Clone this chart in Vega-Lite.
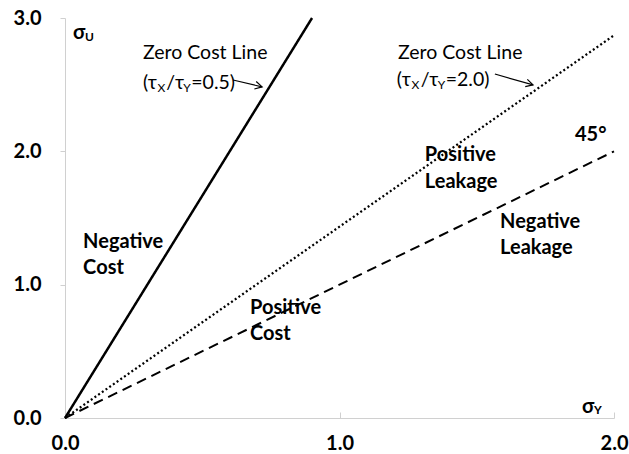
{
  "$schema": "https://vega.github.io/schema/vega-lite/v6.json",
  "width": 549,
  "height": 400,
  "autosize": "none",
  "padding": {"left": 65, "top": 18, "right": 15, "bottom": 36},
  "background": "white",
  "config": {"view": {"stroke": null}, "font": "Lato"},
  "datasets": {
    "lines": [
      {"s": "solid", "x": 0, "y": 0}, {"s": "solid", "x": 0.9, "y": 3.0},
      {"s": "dotted", "x": 0, "y": 0}, {"s": "dotted", "x": 2.0, "y": 2.87},
      {"s": "dashed", "x": 0, "y": 0}, {"s": "dashed", "x": 2.0, "y": 2.0}
    ],
    "bold": [
      {"t": "Negative", "x": 0.066, "y": 1.32}, {"t": "Cost", "x": 0.066, "y": 1.125},
      {"t": "Positive", "x": 0.674, "y": 0.825}, {"t": "Cost", "x": 0.674, "y": 0.63},
      {"t": "Positive", "x": 1.311, "y": 1.973}, {"t": "Leakage", "x": 1.311, "y": 1.77},
      {"t": "Negative", "x": 1.585, "y": 1.47}, {"t": "Leakage", "x": 1.585, "y": 1.275},
      {"t": "45°", "x": 1.858, "y": 2.122},
      {"t": "σ", "x": 0.029, "y": 2.888}, {"t": "σ", "x": 1.883, "y": 0.083}
    ],
    "boldsub": [
      {"t": "U", "x": 0.073, "y": 2.855}, {"t": "Y", "x": 1.927, "y": 0.058}
    ],
    "reg": [
      {"t": "Zero Cost Line", "x": 0.284, "y": 2.738}, {"t": "Zero Cost Line", "x": 1.213, "y": 2.738},
      {"t": "(τ", "x": 0.284, "y": 2.513}, {"t": "/τ", "x": 0.369, "y": 2.513}, {"t": "=0.5)", "x": 0.46, "y": 2.513},
      {"t": "(τ", "x": 1.209, "y": 2.535}, {"t": "/τ", "x": 1.296, "y": 2.535}, {"t": "=2.0)", "x": 1.387, "y": 2.535}
    ],
    "regsub": [
      {"t": "X", "x": 0.337, "y": 2.475}, {"t": "Y", "x": 0.431, "y": 2.475},
      {"t": "X", "x": 1.262, "y": 2.498}, {"t": "Y", "x": 1.358, "y": 2.498}
    ],
    "arrows": [
      {"x": 0.612, "y": 2.535, "x2": 0.718, "y2": 2.483, "a": 14},
      {"x": 1.566, "y": 2.58, "x2": 1.705, "y2": 2.498, "a": 16}
    ]
  },
  "layer": [
    {
      "data": {"name": "lines"},
      "mark": {"type": "line", "color": "black", "strokeCap": "butt"},
      "encoding": {
        "x": {"field": "x", "type": "quantitative", "scale": {"domain": [0, 2], "nice": false},
          "axis": {"values": [0, 1, 2], "format": ".1f", "title": null, "grid": false,
            "labelFontSize": 20, "labelFontWeight": "bold", "labelColor": "black",
            "domainColor": "#d0d0d0", "tickColor": "#d0d0d0", "tickSize": -6, "labelPadding": 21, "labelFlush": false}},
        "y": {"field": "y", "type": "quantitative", "scale": {"domain": [0, 3], "nice": false},
          "axis": {"values": [0, 1, 2, 3], "format": ".1f", "title": null, "grid": false,
            "labelFontSize": 20, "labelFontWeight": "bold", "labelColor": "black",
            "domainColor": "#d0d0d0", "tickColor": "#d0d0d0", "tickSize": 5, "labelPadding": 19, "labelFlush": false}},
        "detail": {"field": "s"},
        "strokeDash": {"field": "s", "type": "nominal", "scale": {"domain": ["solid", "dotted", "dashed"], "range": [[1, 0], [2, 2.5], [10, 6]]}, "legend": null},
        "strokeWidth": {"field": "s", "type": "nominal", "scale": {"domain": ["solid", "dotted", "dashed"], "range": [2.5, 2, 2.5]}, "legend": null}
      }
    },
    {
      "data": {"name": "arrows"},
      "mark": {"type": "rule", "color": "black", "strokeWidth": 1.2},
      "encoding": {
        "x": {"field": "x", "type": "quantitative"}, "y": {"field": "y", "type": "quantitative"},
        "x2": {"field": "x2"}, "y2": {"field": "y2"}
      }
    },
    {
      "data": {"name": "arrows"},
      "mark": {"type": "point", "shape": "M -1 -0.55 L 0 0 L -1 0.55", "filled": false, "stroke": "black", "strokeWidth": 1.2, "size": 196, "opacity": 1},
      "encoding": {
        "x": {"field": "x2", "type": "quantitative"}, "y": {"field": "y2", "type": "quantitative"},
        "angle": {"field": "a", "type": "quantitative", "scale": null}
      }
    },
    {
      "data": {"name": "bold"},
      "mark": {"type": "text", "align": "left", "baseline": "middle", "fontSize": 20, "fontWeight": "bold", "color": "black"},
      "encoding": {"x": {"field": "x", "type": "quantitative"}, "y": {"field": "y", "type": "quantitative"}, "text": {"field": "t"}}
    },
    {
      "data": {"name": "boldsub"},
      "mark": {"type": "text", "align": "left", "baseline": "middle", "fontSize": 12, "fontWeight": "bold", "color": "black"},
      "encoding": {"x": {"field": "x", "type": "quantitative"}, "y": {"field": "y", "type": "quantitative"}, "text": {"field": "t"}}
    },
    {
      "data": {"name": "reg"},
      "mark": {"type": "text", "align": "left", "baseline": "middle", "fontSize": 19.5, "color": "black"},
      "encoding": {"x": {"field": "x", "type": "quantitative"}, "y": {"field": "y", "type": "quantitative"}, "text": {"field": "t"}}
    },
    {
      "data": {"name": "regsub"},
      "mark": {"type": "text", "align": "left", "baseline": "middle", "fontSize": 12, "color": "black"},
      "encoding": {"x": {"field": "x", "type": "quantitative"}, "y": {"field": "y", "type": "quantitative"}, "text": {"field": "t"}}
    }
  ]
}
